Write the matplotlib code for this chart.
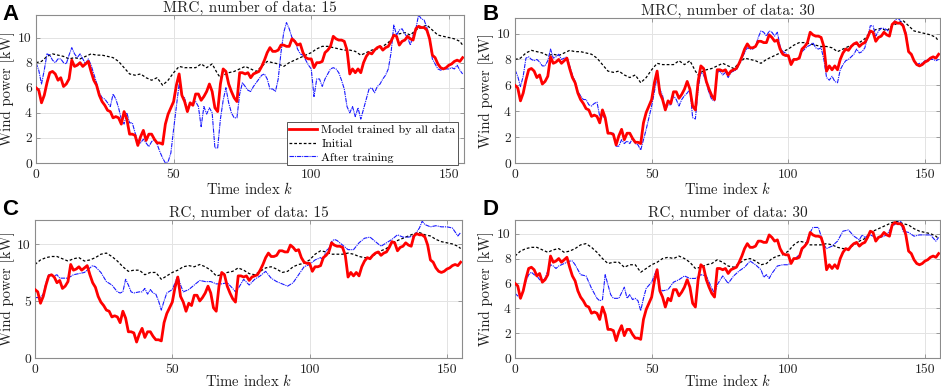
import numpy as np
import matplotlib
matplotlib.use("Agg")
import matplotlib.pyplot as plt

plt.rcParams['font.family'] = ['cmr10', 'DejaVu Serif']
plt.rcParams['mathtext.fontset'] = 'cm'
plt.rcParams['axes.formatter.use_mathtext'] = True

# ---------------- data ----------------
k_full = np.arange(156)

# Model trained by all data (same in every panel)
red_all = [6.0, 5.8, 4.8, 5.4, 6.4, 7.2, 7.3, 7.1, 6.6, 6.8,
           6.1, 6.3, 6.7, 8.2, 7.7, 7.8, 8.0, 7.7, 7.9, 8.1,
           7.3, 6.6, 6.2, 5.4, 4.9, 4.6, 4.2, 4.1, 3.6, 3.7,
           3.6, 3.1, 4.1, 3.5, 2.3, 2.3, 2.2, 1.4, 2.1, 2.6,
           1.8, 2.3, 2.3, 1.9, 1.6, 1.6, 1.5, 3.1, 3.9, 4.4,
           4.9, 6.2, 7.1, 5.4, 4.9, 4.1, 4.8, 4.6, 5.5, 5.5,
           5.0, 5.3, 5.7, 6.3, 5.7, 4.4, 4.1, 6.3, 7.5, 7.3,
           6.3, 5.7, 5.2, 4.9, 7.2, 7.2, 7.1, 7.2, 6.8, 7.1,
           7.2, 7.3, 7.7, 8.2, 8.8, 9.2, 8.9, 8.9, 9.0, 9.4,
           9.4, 9.3, 9.3, 9.9, 9.7, 9.4, 9.5, 8.8, 8.4, 8.3,
           8.3, 7.6, 8.0, 8.0, 8.1, 8.8, 9.0, 9.3, 10.1, 9.9,
           9.8, 9.8, 9.7, 9.0, 7.1, 7.5, 7.2, 7.5, 7.2, 8.0,
           8.5, 8.8, 8.7, 9.0, 9.2, 9.3, 9.0, 9.2, 9.3, 9.7,
           10.2, 10.1, 9.4, 9.7, 9.8, 10.1, 9.9, 9.8, 10.7, 10.9,
           10.8, 10.8, 10.6, 9.9, 8.6, 8.4, 7.9, 7.6, 7.5, 7.6,
           7.8, 7.9, 8.1, 8.2, 8.1, 8.4]

# Initial model, MRC (panels A and B)
k_init_mrc = [0, 2, 4, 6, 8, 10, 12, 14, 16, 18, 20, 22, 24, 26, 28, 30, 32, 34, 36, 38,
              40, 42, 44, 46, 48, 50, 52, 54, 56, 58, 60, 62, 64, 66, 67, 68, 70, 72, 74, 76,
              78, 80, 82, 84, 86, 88, 90, 92, 94, 96, 98, 100, 102, 104, 106, 108, 110, 112, 114, 116,
              118, 120, 122, 124, 126, 128, 130, 132, 134, 136, 138, 140, 142, 144, 146, 148, 150, 152, 154, 155]
init_mrc = [8.0, 8.1, 8.5, 8.7, 8.6, 8.5, 8.3, 8.4, 8.3, 8.5, 8.7, 8.6, 8.6, 8.5, 8.4, 8.1, 7.6, 7.1, 7.0, 7.1,
            6.8, 6.6, 6.8, 6.2, 6.6, 7.2, 7.7, 7.6, 7.6, 7.6, 7.9, 7.6, 7.9, 7.1, 6.8, 7.0, 7.2, 7.3, 7.5, 7.7,
            7.5, 7.3, 7.7, 8.1, 8.0, 7.9, 7.7, 8.0, 8.2, 8.4, 8.6, 8.8, 9.1, 9.3, 9.3, 9.2, 9.1, 9.0, 9.0, 8.9,
            8.6, 8.8, 9.0, 9.1, 9.3, 9.6, 10.1, 10.3, 10.4, 10.2, 10.6, 10.8, 11.0, 10.6, 10.2, 10.1, 10.0, 9.9, 9.7, 9.4]

# After training, MRC 15 (panel A)
after_mrc15 = [8.0, 7.4, 6.3, 7.4, 8.7, 8.6, 8.2, 8.0, 8.3, 8.3,
               8.0, 7.9, 8.6, 9.2, 8.7, 8.4, 8.7, 8.3, 7.9, 8.3,
               7.8, 7.1, 6.4, 5.6, 5.2, 5.1, 4.8, 4.5, 5.5, 5.1,
               4.4, 3.5, 3.1, 4.0, 3.2, 3.2, 2.4, 1.7, 1.6, 1.9,
               1.6, 1.3, 1.7, 1.9, 1.5, 0.9, 0.4, 0.0, 0.1, 0.8,
               2.7, 4.5, 6.3, 5.3, 5.2, 4.1, 4.7, 4.7, 4.9, 4.5,
               2.9, 4.5, 3.9, 4.4, 4.0, 1.2, 1.2, 3.5, 5.0, 6.0,
               4.8, 4.0, 3.6, 3.6, 5.5, 6.4, 6.1, 5.8, 5.7, 6.1,
               6.4, 6.7, 7.0, 7.1, 6.7, 5.9, 5.9, 5.7, 6.7, 8.8,
               10.4, 11.2, 10.7, 10.0, 9.8, 9.1, 8.7, 8.6, 8.2, 7.8,
               7.5, 5.3, 6.7, 6.7, 6.1, 6.7, 7.1, 7.5, 7.6, 7.5,
               7.2, 6.6, 5.9, 4.5, 4.0, 4.5, 3.7, 4.4, 3.5, 4.3,
               5.1, 5.9, 6.0, 5.6, 6.1, 6.3, 6.7, 7.0, 7.5, 8.8,
               11.0, 10.2, 10.6, 10.7, 10.3, 10.0, 9.4, 10.2, 10.7, 11.8,
               11.5, 11.4, 10.8, 9.9, 8.3, 7.9, 7.5, 7.4, 7.5, 7.5,
               7.5, 7.6, 7.5, 7.8, 7.4, 7.1]

# After training, MRC 30 (panel B)
after_mrc30 = [7.2, 6.7, 5.9, 6.7, 8.1, 8.2, 8.0, 7.9, 8.0, 7.8,
               7.5, 7.5, 7.9, 8.8, 8.1, 8.2, 8.4, 8.0, 8.1, 8.2,
               7.5, 6.8, 6.3, 5.5, 5.2, 4.9, 4.9, 4.5, 4.4, 4.6,
               4.7, 3.6, 3.7, 3.4, 2.4, 2.3, 2.3, 1.3, 1.3, 1.8,
               1.5, 1.7, 1.5, 1.9, 1.5, 1.4, 1.0, 1.8, 2.6, 3.5,
               4.4, 5.5, 6.7, 5.7, 5.2, 4.1, 4.5, 4.5, 5.2, 4.9,
               4.4, 4.9, 5.2, 5.4, 5.7, 3.5, 3.4, 5.7, 7.0, 6.8,
               6.2, 5.4, 4.9, 4.8, 7.0, 7.1, 6.8, 7.0, 6.6, 7.0,
               7.1, 7.2, 7.6, 8.1, 8.5, 8.9, 8.8, 8.8, 9.0, 9.7,
               10.2, 10.1, 9.8, 10.2, 10.1, 9.8, 10.1, 9.0, 8.6, 8.5,
               8.2, 7.9, 8.0, 8.0, 8.2, 8.6, 8.8, 9.0, 9.1, 9.3,
               8.9, 8.8, 8.9, 8.0, 6.6, 6.4, 6.7, 6.3, 6.2, 7.2,
               7.6, 7.9, 8.0, 8.2, 8.4, 8.8, 8.5, 8.6, 8.9, 9.7,
               10.6, 10.6, 9.8, 10.2, 10.4, 10.4, 10.3, 10.1, 10.6, 11.0,
               11.2, 11.0, 10.7, 10.1, 8.6, 8.3, 7.9, 7.6, 7.7, 7.7,
               7.9, 8.0, 8.0, 8.0, 7.9, 8.0]

# Initial model, RC (panels C and D)
k_init_rc = [0, 2, 4, 6, 8, 10, 12, 14, 16, 18, 20, 22, 24, 26, 28, 30, 32, 34, 36, 38,
             40, 42, 44, 46, 48, 50, 52, 54, 56, 58, 60, 62, 64, 66, 68, 70, 72, 74, 76, 78,
             80, 82, 84, 86, 88, 90, 92, 94, 96, 98, 100, 102, 104, 106, 108, 110, 112, 114, 116, 118,
             120, 122, 124, 126, 128, 130, 132, 134, 136, 138, 140, 142, 144, 146, 148, 150, 152, 154, 155]
init_rc = [8.2, 8.6, 8.8, 8.9, 8.9, 8.7, 8.5, 8.7, 8.8, 8.5, 8.6, 8.8, 9.1, 9.2, 8.9, 8.5, 8.0, 7.6, 7.7, 7.7,
           7.3, 7.5, 7.5, 6.9, 7.2, 7.5, 7.7, 8.0, 8.1, 8.0, 8.2, 8.0, 7.7, 7.2, 7.3, 7.5, 7.6, 7.9, 7.7, 7.4,
           7.3, 7.6, 7.9, 8.0, 7.8, 7.5, 7.6, 8.0, 8.2, 8.3, 8.6, 9.1, 9.4, 9.3, 9.1, 9.1, 9.1, 9.2, 9.1, 8.9,
           8.8, 8.8, 9.1, 9.4, 9.6, 10.1, 10.3, 10.5, 10.7, 10.9, 11.0, 10.8, 10.7, 10.4, 10.2, 10.1, 10.0, 9.8, 9.6]

# After training, RC 15 (panel C)
k_rc15 = [0, 2, 3, 4, 5, 6, 7, 8, 9, 10, 12, 14, 16, 18, 20, 21, 22, 24, 26, 28,
          30, 31, 32, 33, 34, 35, 36, 38, 39, 40, 41, 42, 43, 44, 45, 46, 47, 48, 50, 52,
          53, 54, 56, 58, 60, 62, 64, 66, 68, 70, 72, 73, 74, 76, 78, 80, 82, 84, 86, 88,
          90, 92, 94, 96, 98, 100, 102, 104, 105, 106, 107, 108, 109, 110, 112, 114, 116, 118, 120, 122,
          124, 126, 128, 130, 132, 134, 136, 138, 140, 141, 142, 144, 146, 148, 150, 152, 154, 155]
after_rc15 = [5.3, 5.3, 5.6, 6.6, 7.3, 7.3, 7.2, 7.3, 7.0, 7.0, 7.0, 7.3, 7.4, 7.5, 7.9, 8.1, 8.0, 7.5, 6.7, 6.4,
              5.8, 5.7, 5.8, 6.9, 6.4, 5.8, 5.7, 5.8, 5.8, 6.1, 5.6, 6.0, 5.7, 5.6, 5.0, 4.2, 5.0, 5.7, 6.0, 7.2,
              6.4, 5.8, 6.0, 6.4, 6.8, 6.7, 6.7, 6.5, 6.5, 6.6, 6.1, 5.8, 6.1, 6.9, 6.4, 6.9, 7.2, 7.6, 7.0, 6.7,
              6.5, 6.3, 6.6, 7.3, 8.0, 8.2, 8.6, 8.8, 8.6, 9.4, 9.6, 10.2, 10.4, 10.3, 9.9, 9.5, 9.5, 10.1, 10.5, 10.6,
              10.2, 9.8, 10.1, 10.4, 10.8, 10.6, 10.6, 10.7, 11.4, 12.0, 11.7, 11.5, 11.6, 11.5, 11.5, 11.4, 10.7, 11.0]

# After training, RC 30 (panel D)
k_rc30 = [0, 1, 2, 3, 4, 5, 6, 7, 8, 9, 10, 11, 12, 13, 14, 15, 16, 18, 20, 21,
          22, 24, 26, 28, 30, 31, 32, 33, 34, 35, 36, 38, 40, 41, 42, 43, 44, 45, 46, 47,
          48, 50, 52, 53, 54, 56, 58, 60, 62, 64, 66, 68, 70, 72, 73, 74, 76, 78, 80, 82,
          84, 86, 88, 90, 91, 92, 93, 94, 96, 98, 100, 102, 104, 106, 108, 109, 110, 111, 112, 113,
          114, 116, 118, 120, 122, 124, 126, 127, 128, 130, 132, 134, 136, 138, 140, 141, 142, 144, 146, 148,
          150, 152, 154, 155]
after_rc30 = [5.2, 5.0, 4.8, 5.4, 6.2, 6.7, 6.9, 6.7, 6.6, 6.3, 6.2, 6.4, 7.0, 7.5, 7.4, 7.2, 7.4, 7.6, 7.8, 7.8,
              7.5, 6.7, 6.6, 5.6, 4.8, 4.6, 4.7, 6.7, 5.9, 5.1, 4.8, 4.8, 5.7, 4.8, 5.1, 4.7, 4.8, 4.6, 3.8, 4.8,
              5.6, 6.1, 7.2, 5.6, 5.4, 5.5, 6.1, 6.3, 6.6, 6.4, 6.4, 6.7, 6.6, 5.6, 5.2, 5.9, 6.6, 6.0, 6.6, 7.0,
              7.3, 7.8, 7.5, 7.1, 6.5, 6.7, 6.4, 6.8, 7.4, 7.5, 7.5, 7.9, 8.3, 9.0, 10.1, 10.5, 10.5, 10.5, 9.8, 9.1,
              8.8, 9.0, 9.4, 10.2, 10.3, 9.8, 9.5, 9.9, 9.7, 9.9, 9.7, 9.7, 9.9, 10.6, 10.9, 11.1, 10.2, 10.1, 9.8, 9.9,
              9.9, 9.9, 9.4, 9.7]

titles = ["MRC, number of data: 15", "MRC, number of data: 30",
          "RC, number of data: 15", "RC, number of data: 30"]
letters = ["A", "B", "C", "D"]
legend_labels = ["Model trained by all data", "Initial", "After training"]
x_ticks = [0, 50, 100, 150]

# ---------------- layout (pixels) ----------------
W, H = 941, 390
fig = plt.figure(figsize=(W / 100, H / 100), dpi=100)

# (left, right, top, bottom) in pixels from top-left
boxes = [(36, 464, 15, 163), (515, 940, 18, 163),
         (35, 462, 220, 358), (515, 940, 220, 358)]
ylims = [11.8, 11.2, 12.1, 11.1]
yticks = [[0, 2, 4, 6, 8, 10], [0, 2, 4, 6, 8, 10], [0, 5, 10], [0, 2, 4, 6, 8, 10]]
letter_pos = [(2, 4), (483, 4), (2, 199), (483, 199)]
ylabel_right = [15, 494, 15, 494]
xlabel_center_y = [189, 189, 381, 381]

series_after = [(k_full, after_mrc15), (k_full, after_mrc30), (k_rc15, after_rc15), (k_rc30, after_rc30)]
series_init = [(k_init_mrc, init_mrc), (k_init_mrc, init_mrc), (k_init_rc, init_rc), (k_init_rc, init_rc)]

spine_col = '#8c8c8c'
txt_col = '#222222'
for i in range(4):
    l, r, t, b = boxes[i]
    ax = fig.add_axes([l / W, 1 - b / H, (r - l) / W, (b - t) / H])
    ax.plot(k_full, red_all, color='#ff0000', lw=2.0, zorder=3, label=legend_labels[0])
    ax.plot(series_init[i][0], series_init[i][1], color='black', lw=0.9,
            linestyle=(0, (2.2, 1.6)), zorder=2, label=legend_labels[1])
    ax.plot(series_after[i][0], series_after[i][1], color='#1a1aff', lw=0.8,
            linestyle=(0, (4, 0.8, 1, 0.8)), zorder=2.5, label=legend_labels[2])
    ax.set_xlim(0, 155.5)
    ax.set_ylim(0, ylims[i])
    ax.set_xticks(x_ticks)
    ax.set_xticklabels([str(v) for v in x_ticks])
    ax.set_yticks(yticks[i])
    ax.set_yticklabels([str(v) for v in yticks[i]])
    ax.grid(True, color='#e3e3e3', lw=0.7)
    ax.set_axisbelow(True)
    for s in ax.spines.values():
        s.set_color(spine_col)
        s.set_linewidth(0.8)
    ax.tick_params(direction='in', length=3, width=0.6, color=spine_col,
                   labelsize=9.8, labelcolor=txt_col, top=True, right=True)
    ax.tick_params(axis='x', pad=4.5)
    ax.tick_params(axis='y', pad=3)
    ax.set_title(titles[i], fontsize=11, pad=2, color=txt_col)
    ax.set_xlabel("Time index $k$", fontsize=10.6, color=txt_col, va='center')
    ax.xaxis.set_label_coords(0.5, (b - xlabel_center_y[i]) / (b - t))
    ax.set_ylabel("Wind power [kW]", fontsize=10.6, color=txt_col)
    ax.yaxis.set_label_coords((ylabel_right[i] - l) / (r - l), 0.5)
    fig.text(letter_pos[i][0] / W, 1 - letter_pos[i][1] / H, letters[i],
             fontsize=16, fontweight='bold', family='Liberation Sans', va='top', ha='left')
    if i == 0:
        leg = ax.legend(loc='upper right', bbox_to_anchor=(0.986, 0.277), borderaxespad=0,
                        fontsize=8.6, fancybox=False, framealpha=1, edgecolor='#555555',
                        handlelength=2.3, handletextpad=0.4, borderpad=0.2, labelspacing=0.3)
        leg.get_frame().set_linewidth(0.7)
        leg.set_zorder(10)

fig.savefig("out.png", dpi=100)
